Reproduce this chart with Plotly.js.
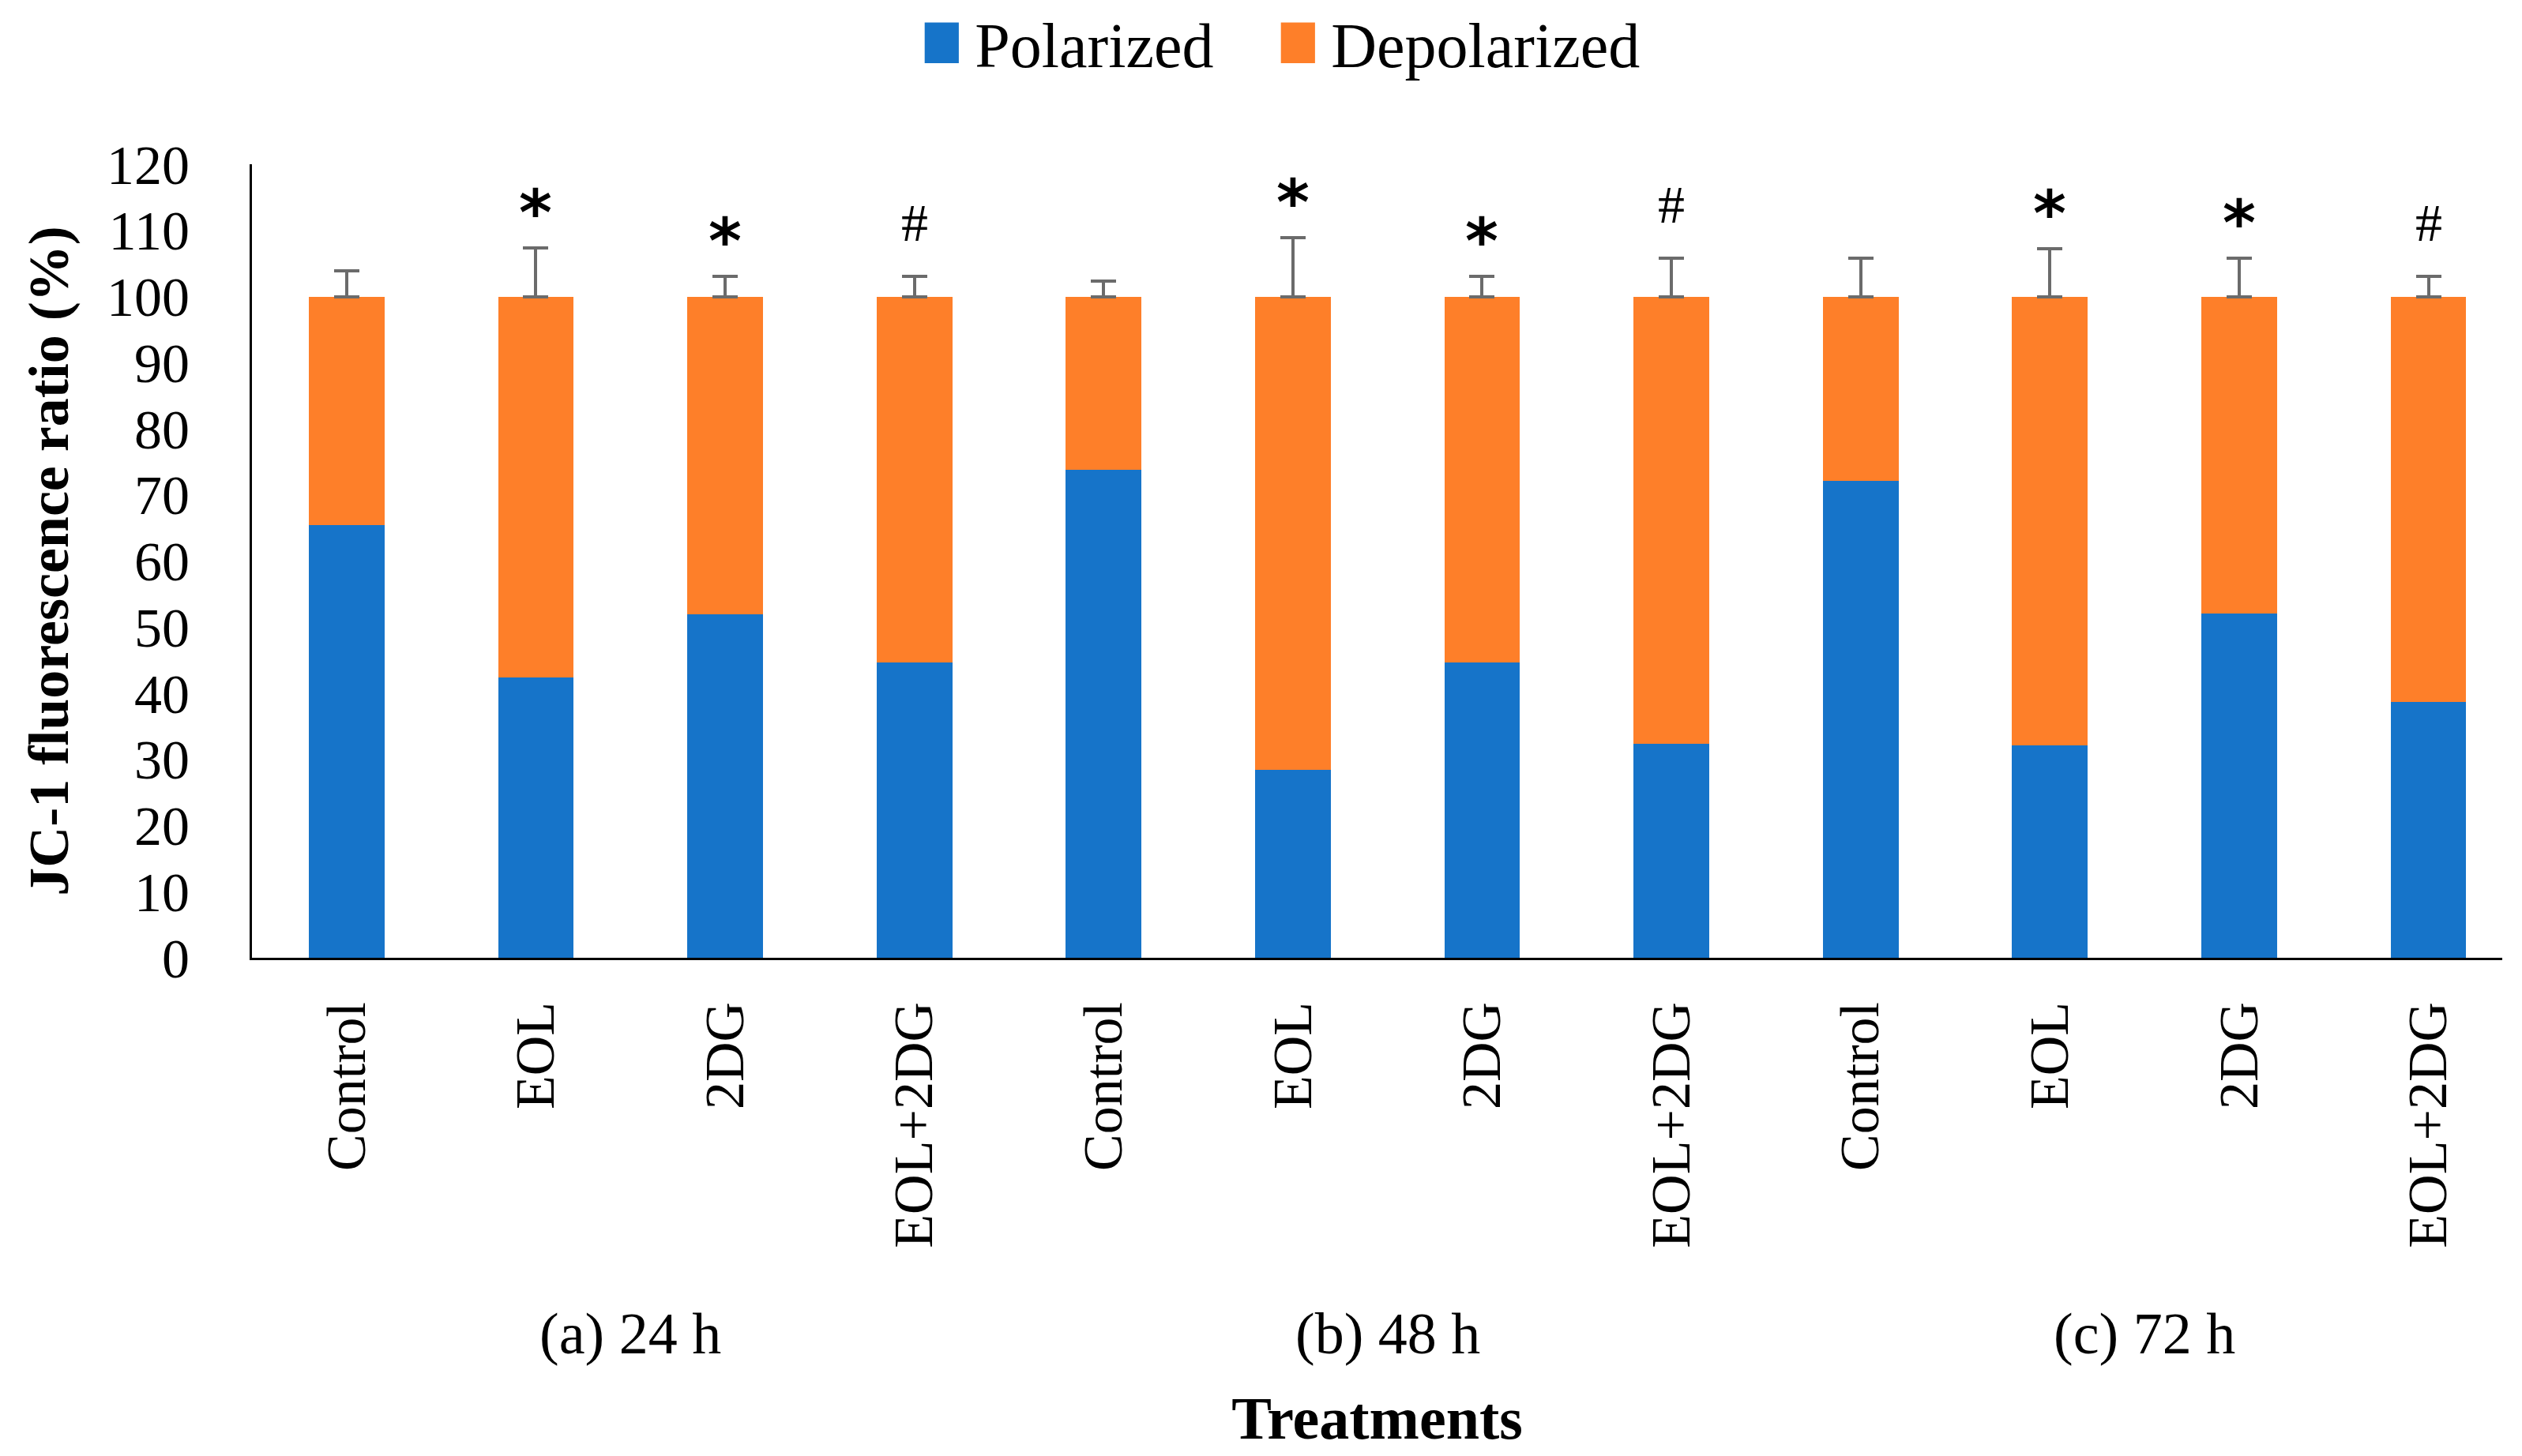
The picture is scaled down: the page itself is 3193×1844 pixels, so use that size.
<!DOCTYPE html>
<html>
<head>
<meta charset="utf-8">
<script src="https://cdn.plot.ly/plotly-3.0.1.min.js"></script>
<style>html,body{margin:0;padding:0;background:#fff;}#chart{width:3193px;height:1844px;}</style>
</head>
<body>
<div id="chart"></div>
<script>
const categories = ['Control','EOL','2DG','EOL+2DG','Control','EOL','2DG','EOL+2DG','Control','EOL','2DG','EOL+2DG'];
const groups = ['(a) 24 h','(b) 48 h','(c) 72 h'];
const polarized   = [65.4, 42.4, 51.9, 44.6, 73.8, 28.4, 44.6, 32.4, 72.1, 32.1, 52.1, 38.7];
const depolarized = [34.6, 57.6, 48.1, 55.4, 26.2, 71.6, 55.4, 67.6, 27.9, 67.9, 47.9, 61.3];
const errPlus     = [3.9, 7.3, 3.1, 3.1, 2.3, 8.9, 3.0, 5.8, 5.8, 7.2, 5.8, 3.0];
const sigMarks    = ['', '*', '*', '#', '', '*', '*', '#', '', '*', '*', '#'];

const FONT = 'Liberation Serif, Times New Roman, serif';
const idx = categories.map((c, i) => i);
const totals = polarized.map((p, i) => p + depolarized[i]);

const traces = [
  {type:'bar', name:'Polarized', x: idx, y: polarized, marker:{color:'#1674c9'}, hoverinfo:'y'},
  {type:'bar', name:'Depolarized', x: idx, y: depolarized, marker:{color:'#fe7f29'},
   error_y:{type:'data', symmetric:false, array: errPlus, arrayminus: errPlus.map(() => 0),
            color:'#6b6b6b', thickness:4, width:16}, hoverinfo:'y'}
];

const annotations = [];
sigMarks.forEach((m, i) => {
  if (!m) return;
  const isStar = m === '*';
  annotations.push({
    x: i, y: totals[i] + errPlus[i], xref:'x', yref:'y', text: isStar ? '<b>*</b>' : m, showarrow:false,
    yanchor:'bottom', xanchor:'center', yshift: isStar ? -4 : 28,
    font:{family: isStar ? 'DejaVu Sans, sans-serif' : FONT, size: isStar ? 80 : 68, color:'#000'}
  });
});
groups.forEach((g, gi) => {
  annotations.push({
    x: gi * 4 + 1.5, xref:'x', y: -0.474, yref:'paper', text: g, showarrow:false,
    xanchor:'center', yanchor:'middle', font:{family: FONT, size: 74, color:'#000'}
  });
});

const layout = {
  width: 3193, height: 1844,
  margin: {l: 319, r: 25, t: 208, b: 631, autoexpand: false},
  paper_bgcolor:'#fff', plot_bgcolor:'#fff',
  barmode:'stack', bargap: 0.6,
  font:{family: FONT, color:'#000', size: 70},
  showlegend: true,
  legend:{orientation:'h', x:0.455, xanchor:'center', y:1.153, yanchor:'middle',
          font:{family: FONT, size: 80, color:'#000'}, traceorder:'normal', itemwidth: 60,
          entrywidth: 376, entrywidthmode:'pixels'},
  xaxis:{
    range:[-0.5, 11.39], tickmode:'array', tickvals: idx, ticktext: categories,
    tickangle:-90, ticks:'', showline:true, linecolor:'#000', linewidth:3,
    showgrid:false, zeroline:false, ticklabelstandoff: 25,
    tickfont:{family: FONT, size: 70, color:'#000'},
    title:{text:'<b>Treatments</b>', font:{family: FONT, size: 76, color:'#000'}, standoff: 190},
    automargin:false
  },
  yaxis:{
    range:[0, 120], dtick:10, tick0:0, ticks:'', showline:true, linecolor:'#000', linewidth:3,
    showgrid:false, zeroline:false, ticklabelstandoff: 62,
    tickfont:{family: FONT, size: 70, color:'#000'},
    title:{text:'<b>JC-1 fluorescence ratio (%)</b>', font:{family: FONT, size: 72, color:'#000'}, standoff: 25},
    automargin:false
  },
  annotations: annotations
};

Plotly.newPlot('chart', traces, layout, {staticPlot:true}).then(() => {
  document.querySelectorAll('#chart .legend .legendpoints path').forEach(p => {
    p.setAttribute('transform', 'translate(28,0) scale(3.6,4.3)');
  });
  document.querySelectorAll('#chart .legend [clip-path]').forEach(el => el.removeAttribute('clip-path'));
});
</script>
</body>
</html>
